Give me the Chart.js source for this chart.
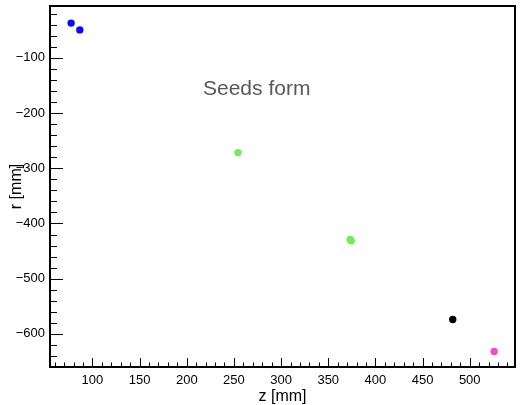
<!DOCTYPE html>
<html>
<head>
<meta charset="utf-8">
<script src="https://cdn.jsdelivr.net/npm/chart.js@4.4.1/dist/chart.umd.min.js"></script>
<style>
  html, body { margin: 0; padding: 0; background: #fff; }
  #wrap { width: 520px; height: 405px; }
</style>
</head>
<body>
<div id="wrap"><canvas id="seeds-plot" width="520" height="405"></canvas></div>
<script>
        // Seed positions (z and r in mm)
        const blueZ = [77.4, 86.6];
        const blueR = [-37, -49.3];
        const greenZ = [254.3, 373.3, 374.3];
        const greenR = [-271.6, -429, -431.5];
        const blackZ = [482];
        const blackR = [-574];
        const pinkZ = [525.9];
        const pinkR = [-632];

        // Axis ranges and tick steps
        const zRange = [55, 548];
        const rRange = [-660, -6];
        const zMajor = 50, zMinor = 10;
        const rMajor = 100, rMinor = 20;

        const labelText = 'Seeds form';

        function toPoints(zs, rs) {
            return zs.map((z, i) => ({ x: z, y: rs[i] }));
        }

        // ROOT-style frame with ticks pointing inward
        const framePlugin = {
            id: 'frame',
            afterDatasetsDraw(chart) {
                const ctx = chart.ctx;
                const area = chart.chartArea;
                const xs = chart.scales.x;
                const ys = chart.scales.y;
                ctx.save();
                ctx.strokeStyle = '#000';
                ctx.lineWidth = 1;
                ctx.beginPath();
                for (let v = Math.ceil(xs.min / zMinor) * zMinor; v <= xs.max; v += zMinor) {
                    const px = Math.round(xs.getPixelForValue(v)) + 0.5;
                    const len = (v % zMajor === 0) ? 9 : 4.5;
                    ctx.moveTo(px, area.bottom);
                    ctx.lineTo(px, area.bottom - len);
                }
                for (let v = Math.ceil(ys.min / rMinor) * rMinor; v <= ys.max; v += rMinor) {
                    const py = Math.round(ys.getPixelForValue(v)) + 0.5;
                    const len = (v % rMajor === 0) ? 13 : 7;
                    ctx.moveTo(area.left, py);
                    ctx.lineTo(area.left + len, py);
                }
                ctx.stroke();
                ctx.lineWidth = 2;
                ctx.strokeRect(area.left, area.top, area.right - area.left, area.bottom - area.top);

                // text label inside the frame
                ctx.fillStyle = '#585858';
                ctx.font = '21px "Liberation Sans", Arial, sans-serif';
                ctx.textAlign = 'left';
                ctx.textBaseline = 'alphabetic';
                ctx.fillText(labelText, area.left + 153, area.top + 89);
                ctx.restore();
            }
        };

        const minusLabel = v => String(v).replace('-', '\u2212');

        const ctx = document.getElementById('seeds-plot').getContext('2d');
        const chart = new Chart(ctx, {
            type: 'scatter',
            data: {
                datasets: [
                    { data: toPoints(blueZ, blueR), backgroundColor: '#0a0af5' },
                    { data: toPoints(greenZ, greenR), backgroundColor: '#6bef55' },
                    { data: toPoints(blackZ, blackR), backgroundColor: '#000000' },
                    { data: toPoints(pinkZ, pinkR), backgroundColor: '#ee4fc6' }
                ]
            },
            options: {
                responsive: false,
                animation: false,
                elements: {
                    point: { radius: 3.7, borderWidth: 0, hoverRadius: 3.7 }
                },
                layout: { padding: { top: 6, right: 5, left: 0, bottom: 0 } },
                plugins: {
                    legend: { display: false },
                    tooltip: { enabled: false }
                },
                scales: {
                    x: {
                        type: 'linear',
                        min: zRange[0],
                        max: zRange[1],
                        grid: { display: false, drawTicks: false },
                        border: { display: false },
                        ticks: {
                            stepSize: zMajor,
                            includeBounds: false,
                            padding: 6,
                            color: '#000',
                            font: { family: '"Liberation Sans", Arial, sans-serif', size: 13 },
                            maxRotation: 0
                        },
                        title: {
                            display: true,
                            text: 'z [mm]',
                            color: '#000',
                            padding: { top: 0, bottom: 0 },
                            font: { family: '"Liberation Sans", Arial, sans-serif', size: 16, lineHeight: 1.0 }
                        },
                        afterFit(scale) {
                            scale.height = 38;
                            scale.paddingLeft = 0;
                            scale.paddingRight = 0;
                        }
                    },
                    y: {
                        type: 'linear',
                        min: rRange[0],
                        max: rRange[1],
                        grid: { display: false, drawTicks: false },
                        border: { display: false },
                        ticks: {
                            stepSize: rMajor,
                            includeBounds: false,
                            padding: 5,
                            color: '#000',
                            font: { family: '"Liberation Sans", Arial, sans-serif', size: 13 },
                            callback: minusLabel
                        },
                        title: {
                            display: true,
                            text: 'r [mm]',
                            color: '#000',
                            padding: { top: 9, bottom: 9 },
                            font: { family: '"Liberation Sans", Arial, sans-serif', size: 16, lineHeight: 1.0 }
                        },
                        afterFit(scale) {
                            scale.width = 50;
                            scale.paddingTop = 0;
                            scale.paddingBottom = 0;
                        }
                    }
                }
            },
            plugins: [framePlugin]
        });
</script>
</body>
</html>
